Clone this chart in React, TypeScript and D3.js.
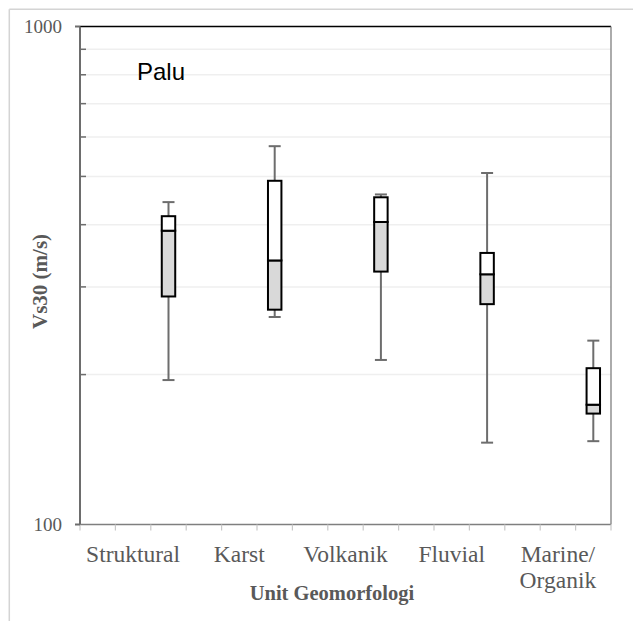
import React from "react";
import * as d3 from "d3";

// Geomorphological units (Palu) and Vs30 box-plot statistics, m/s
const categories = ["Struktural", "Karst", "Volkanik", "Fluvial", "Marine/Organik"];
const labelLines = [["Struktural"], ["Karst"], ["Volkanik"], ["Fluvial"], ["Marine/", "Organik"]];
const minValues = [195, 261, 214, 146, 147];
const q1Values = [287, 270, 322, 277, 167];
const medianValues = [389, 339, 405, 318, 174];
const q3Values = [416, 490, 454, 351, 206];
const maxValues = [444, 575, 460, 508, 234];
const majorTicks = [100, 1000];
const gridValues = [200, 300, 400, 500, 600, 700, 800, 900];

const W = 633;
const H = 621;
const left = 80;
const right = 611;
const top = 26.5;
const bottom = 524.5;

const serif = "'Liberation Serif', 'Times New Roman', serif";
const sans = "'Liberation Sans', Arial, sans-serif";
const textGrey = "#595959";

export default function App() {
  // 15 slots: each unit occupies three, label on the middle slot, box on the last
  const slots = d3.range(categories.length * 3);
  const x = d3.scaleBand<number>().domain(slots).range([left, right]).padding(0);
  const y = d3.scaleLog().domain([100, 1000]).range([bottom, top]);
  const bw = x.bandwidth();
  const boxW = bw * 0.38;
  const capW = 12;

  const rows = categories.map((c, i) => ({
    name: c,
    lines: labelLines[i],
    cx: (x(i * 3 + 2) as number) + bw / 2,
    lx: (x(i * 3 + 1) as number) + bw / 2,
    min: minValues[i],
    q1: q1Values[i],
    med: medianValues[i],
    q3: q3Values[i],
    max: maxValues[i],
  }));

  const boundaries = d3.range(slots.length + 1).map((k) => left + k * bw);

  return (
    <svg
      width={W}
      height={H}
      style={{ position: "absolute", left: 0, top: 0, background: "#fff" }}
    >
      {/* chart area frame */}
      <line x1={9.3} y1={9.3} x2={W} y2={9.3} stroke="#d4d4d4" strokeWidth={1.5} />
      <line x1={9.3} y1={9.3} x2={9.3} y2={H} stroke="#d4d4d4" strokeWidth={1.5} />

      {/* gridlines */}
      {gridValues.map((v) => (
        <line key={v} x1={left} x2={right} y1={y(v)} y2={y(v)} stroke="#efefef" strokeWidth={1.5} />
      ))}

      {/* plot border: top and right */}
      <line x1={left} x2={right} y1={top} y2={top} stroke="#000" strokeWidth={1.3} />
      <line x1={right} x2={right} y1={top} y2={bottom} stroke="#7f7f7f" strokeWidth={1.3} />

      {/* x axis */}
      <line x1={left} x2={right} y1={bottom} y2={bottom} stroke="#7f7f7f" strokeWidth={1.5} />
      {boundaries.map((bx, k) => (
        <line key={k} x1={bx} x2={bx} y1={bottom} y2={bottom + 6} stroke="#c8c8c8" strokeWidth={1.2} />
      ))}

      {/* y axis */}
      <line x1={left} x2={left} y1={top} y2={bottom} stroke="#6d6d6d" strokeWidth={2} />
      {majorTicks.map((v) => (
        <line key={v} x1={left - 5} x2={left} y1={y(v)} y2={y(v)} stroke="#6d6d6d" strokeWidth={2} />
      ))}
      {gridValues.map((v) => (
        <line key={v} x1={left} x2={left + 6} y1={y(v)} y2={y(v)} stroke="#6d6d6d" strokeWidth={1.5} />
      ))}
      {majorTicks.map((v) => (
        <text
          key={v}
          x={62}
          y={y(v)}
          dy="0.35em"
          textAnchor="end"
          fontFamily={serif}
          fontSize={19}
          fill={textGrey}
        >
          {v}
        </text>
      ))}

      {/* whiskers */}
      {rows.map((r) => (
        <g key={r.name + "-w"} stroke="#6d6d6d" strokeWidth={2}>
          <line x1={r.cx} x2={r.cx} y1={y(r.q3)} y2={y(r.max)} />
          <line x1={r.cx - capW / 2} x2={r.cx + capW / 2} y1={y(r.max)} y2={y(r.max)} />
          <line x1={r.cx} x2={r.cx} y1={y(r.q1)} y2={y(r.min)} />
          <line x1={r.cx - capW / 2} x2={r.cx + capW / 2} y1={y(r.min)} y2={y(r.min)} />
        </g>
      ))}

      {/* boxes: lower half grey, upper half white */}
      {rows.map((r) => (
        <g key={r.name + "-b"} stroke="#000" strokeWidth={2}>
          <rect
            x={r.cx - boxW / 2}
            y={y(r.med)}
            width={boxW}
            height={y(r.q1) - y(r.med)}
            fill="#d9d9d9"
          />
          <rect
            x={r.cx - boxW / 2}
            y={y(r.q3)}
            width={boxW}
            height={y(r.med) - y(r.q3)}
            fill="#ffffff"
          />
        </g>
      ))}

      {/* category labels */}
      {rows.map((r) => (
        <text
          key={r.name + "-l"}
          x={r.lx}
          y={561.5}
          textAnchor="middle"
          fontFamily={serif}
          fontSize={23.5}
          fill={textGrey}
        >
          {r.lines.map((ln, j) => (
            <tspan key={j} x={r.lx} dy={j === 0 ? 0 : 26.6}>
              {ln}
            </tspan>
          ))}
        </text>
      ))}

      {/* axis titles */}
      <text
        x={332}
        y={600}
        textAnchor="middle"
        fontFamily={serif}
        fontWeight="bold"
        fontSize={20.5}
        fill={textGrey}
      >
        Unit Geomorfologi
      </text>
      <text
        transform={`translate(46.5, 281.5) rotate(-90)`}
        textAnchor="middle"
        fontFamily={serif}
        fontWeight="bold"
        fontSize={21}
        fill={textGrey}
      >
        Vs30 (m/s)
      </text>

      {/* panel label */}
      <text x={137} y={80} fontFamily={sans} fontSize={24} fill="#000">
        Palu
      </text>
    </svg>
  );
}
